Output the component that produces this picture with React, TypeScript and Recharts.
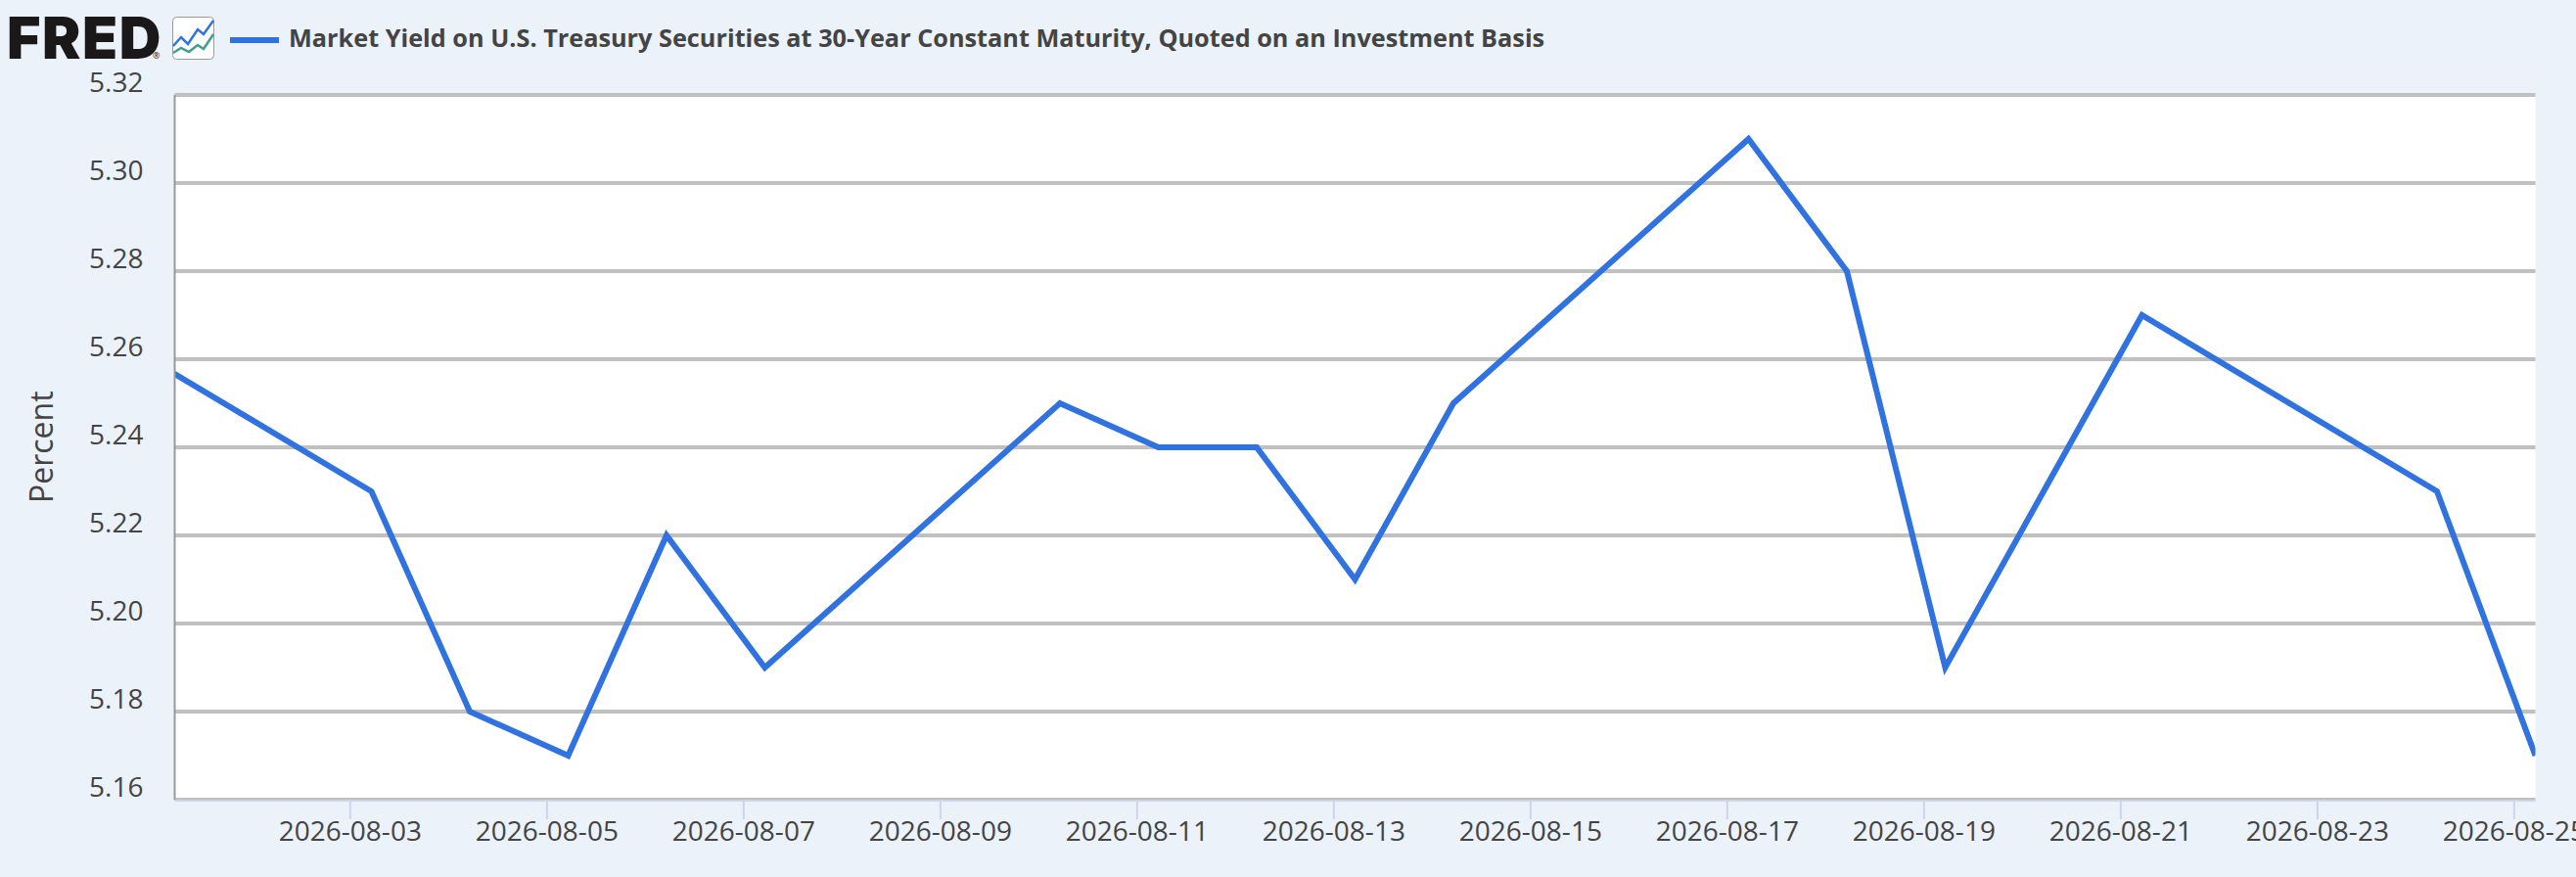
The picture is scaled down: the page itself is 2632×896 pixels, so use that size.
import React from 'react';
import { LineChart, Line, XAxis, YAxis, CartesianGrid } from 'recharts';

const SERIES_NAME = 'Market Yield on U.S. Treasury Securities at 30-Year Constant Maturity, Quoted on an Investment Basis';
const DATES = [
  '2026-07-31', '2026-08-03', '2026-08-04', '2026-08-05', '2026-08-06', '2026-08-07', '2026-08-10',
  '2026-08-11', '2026-08-12', '2026-08-13', '2026-08-14', '2026-08-17', '2026-08-18', '2026-08-19',
  '2026-08-20', '2026-08-21', '2026-08-24', '2026-08-25',
];
const YIELDS = [5.27, 5.23, 5.18, 5.17, 5.22, 5.19, 5.25, 5.24, 5.24, 5.21, 5.25, 5.31, 5.28, 5.19, 5.23, 5.27, 5.23, 5.17];
const X_TICK_DATES = [
  '2026-08-03', '2026-08-05', '2026-08-07', '2026-08-09', '2026-08-11', '2026-08-13',
  '2026-08-15', '2026-08-17', '2026-08-19', '2026-08-21', '2026-08-23', '2026-08-25',
];
const Y_TICKS = [5.16, 5.18, 5.2, 5.22, 5.24, 5.26, 5.28, 5.3, 5.32];

// observations are stamped a few hours after the midnight of their date
const POINT_TIME = 'T05:10:00Z';
const X_MIN = Date.parse('2026-08-01' + POINT_TIME);
const X_MAX = Date.parse('2026-08-25' + POINT_TIME);

const data = DATES.map((d, i) => ({ t: Date.parse(d + POINT_TIME), value: YIELDS[i] }));
const xTicks = X_TICK_DATES.map((d) => Date.parse(d + 'T00:00:00Z'));

const FONT = '"Open Sans", sans-serif';
const TEXT = '#444444';
const BLUE = '#3072E0';

const formatDate = (t: number) => new Date(t).toISOString().slice(0, 10);

export default function App() {
  return (
    <div style={{ position: 'absolute', left: 0, top: 0, width: 2632, height: 896, overflow: 'hidden', background: '#EBF2FA' }}>
      <LineChart
        width={2632}
        height={896}
        data={data}
        margin={{ top: 97, right: 41.5, bottom: 0, left: 0 }}
      >
        <CartesianGrid vertical={false} fill="#ffffff" stroke="#C0C0C0" strokeWidth={4} horizontalValues={Y_TICKS} />
        <XAxis
          dataKey="t"
          type="number"
          scale="time"
          domain={[X_MIN, X_MAX]}
          allowDataOverflow
          ticks={xTicks}
          interval={0}
          tickFormatter={formatDate}
          height={79}
          axisLine={{ stroke: '#CCD6EB', strokeWidth: 2, transform: 'translate(0,1)' }}
          tickLine={{ stroke: '#CCD6EB', strokeWidth: 2 }}
          tickSize={20}
          tickMargin={2}
          tick={{ fill: TEXT, fontSize: 28, fontFamily: FONT }}
        />
        <YAxis
          domain={[5.16, 5.32]}
          ticks={Y_TICKS}
          interval={0}
          width={178.5}
          tickFormatter={(v: number) => v.toFixed(2)}
          axisLine={{ stroke: '#999999', strokeWidth: 2 }}
          tickLine={false}
          tickMargin={26}
          tick={{ fill: TEXT, fontSize: 28, fontFamily: FONT, dy: -13 }}
          label={{ value: 'Percent', angle: -90, position: 'insideLeft', dx: 38, dy: 57, fill: TEXT, fontSize: 32, fontFamily: FONT }}
        />
        <Line
          dataKey="value"
          name={SERIES_NAME}
          type="linear"
          stroke={BLUE}
          strokeWidth={6}
          strokeLinejoin="miter"
          strokeLinecap="butt"
          dot={false}
          activeDot={false}
          isAnimationActive={false}
        />
      </LineChart>

      <div
        style={{
          position: 'absolute', left: 7, top: 17, fontFamily: 'Inter, sans-serif', fontWeight: 900, fontSize: 59,
          lineHeight: '44px', letterSpacing: 1.6, color: '#1A1818',
        }}
      >
        FRED
      </div>
      <div style={{ position: 'absolute', left: 156, top: 52, fontFamily: FONT, fontSize: 9, lineHeight: '10px', color: '#1A1818' }}>®</div>
      <svg style={{ position: 'absolute', left: 176, top: 17 }} width={44} height={44} viewBox="0 0 44 44">
        <rect x={0.5} y={0.5} width={42} height={43} rx={4} fill="#ffffff" stroke="#999999" />
        <polyline points="1,30 9,21 16,28 26,13 32,18 42,4" fill="none" stroke={BLUE} strokeWidth={2.5} />
        <polyline points="1,37 9,32 17,36 26,29 32,33 42,18" fill="none" stroke="#3F9E8F" strokeWidth={2.5} />
      </svg>
      <div style={{ position: 'absolute', left: 235, top: 38, width: 50, height: 6, background: BLUE }} />
      <div
        style={{
          position: 'absolute', left: 295, top: 20, fontFamily: FONT, fontWeight: 700, fontSize: 25.27,
          lineHeight: '36px', color: TEXT, whiteSpace: 'nowrap',
        }}
      >
        {SERIES_NAME}
      </div>
    </div>
  );
}
